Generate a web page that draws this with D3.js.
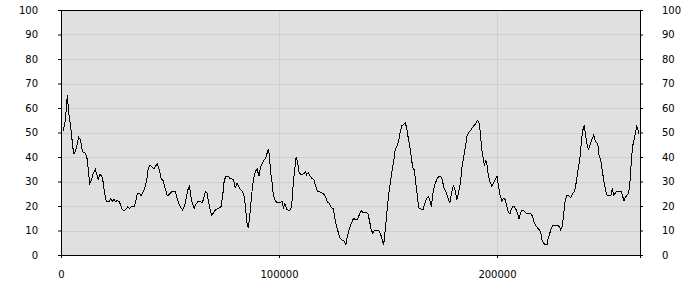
<!DOCTYPE html>
<html>
<head>
<meta charset="utf-8">
<script src="https://cdnjs.cloudflare.com/ajax/libs/d3/7.8.5/d3.min.js"></script>
<style>
  body { margin: 0; background: #fff; }
  svg { display: block; font-family: "DejaVu Sans", Verdana, sans-serif; }
</style>
</head>
<body>
<script>
// x position in thousands
var xk = [
  1.1, 2.0, 2.9, 3.5, 4.7, 5.4, 6.0, 6.7, 7.5, 8.1, 8.9, 9.6, 10.2, 11.3, 12.1, 12.7, 13.2, 13.9, 14.8, 15.7,
  16.5, 17.1, 17.9, 18.8, 19.4, 20.0, 20.8, 22.0, 22.8, 23.5, 24.3, 25.1, 25.8, 26.7, 27.4, 28.1, 29.2, 30.0, 30.7, 31.5,
  32.2, 33.5, 34.3, 35.0, 35.9, 36.8, 37.8, 38.7, 39.4, 40.0, 40.8, 41.7, 42.7, 43.4, 44.2, 45.1, 45.9, 46.9, 47.8, 48.8,
  49.7, 50.9, 52.4, 53.1, 53.8, 54.7, 55.8, 56.7, 57.7, 58.3, 58.9, 59.5, 60.2, 61.1, 61.9, 62.8, 63.8, 64.7, 65.5, 66.2,
  67.0, 67.8, 68.5, 69.1, 69.9, 70.8, 71.7, 72.6, 73.4, 74.2, 74.9, 75.8, 76.7, 77.5, 78.4, 79.2, 80.0, 80.7, 81.5, 82.2,
  83.2, 84.1, 84.7, 85.2, 85.9, 86.6, 87.2, 87.9, 88.7, 89.3, 90.0, 90.8, 91.6, 92.5, 93.4, 94.2, 95.0, 95.5, 96.2, 96.8,
  97.4, 98.2, 98.9, 99.9, 100.8, 101.4, 102.0, 102.7, 103.5, 104.3, 105.4, 106.0, 106.6, 107.2, 107.9, 108.6, 109.2, 110.0, 110.9, 111.5,
  112.1, 112.7, 113.4, 114.2, 115.1, 116.1, 116.8, 117.6, 118.5, 119.4, 120.6, 121.4, 122.2, 123.1, 124.0, 124.9, 125.5, 126.3, 127.1, 128.0,
  128.9, 129.8, 130.7, 131.3, 132.1, 132.9, 133.8, 134.3, 135.0, 135.8, 136.8, 137.7, 138.7, 139.9, 140.8, 141.6, 142.3, 143.1, 143.7, 144.6,
  145.7, 146.5, 147.2, 148.0, 148.8, 149.5, 150.3, 151.1, 151.8, 152.6, 153.3, 154.1, 154.9, 155.6, 156.4, 157.2, 157.9, 158.6, 159.2, 160.0,
  160.7, 161.3, 162.1, 162.7, 163.3, 164.1, 164.8, 166.0, 166.8, 167.7, 168.7, 169.3, 169.9, 170.5, 171.4, 172.3, 173.3, 174.2, 174.9, 175.7,
  176.6, 177.5, 178.3, 179.2, 180.0, 180.7, 181.6, 182.4, 183.2, 183.9, 184.7, 185.5, 186.2, 187.0, 187.9, 188.7, 189.4, 190.2, 191.0, 191.7,
  192.3, 193.0, 193.6, 194.2, 194.8, 195.4, 196.0, 196.8, 197.6, 198.3, 199.1, 200.0, 200.6, 201.4, 202.2, 202.9, 203.7, 204.4, 205.2, 206.0,
  206.6, 207.2, 207.9, 208.7, 209.5, 210.1, 210.7, 211.5, 212.4, 213.3, 214.3, 215.6, 216.4, 217.0, 217.7, 218.5, 219.4, 220.0, 220.6, 221.4,
  222.2, 222.9, 223.5, 224.2, 224.8, 225.7, 226.7, 227.8, 228.6, 229.2, 230.0, 230.6, 231.3, 232.0, 233.0, 233.8, 234.7, 235.6, 236.4, 237.0,
  237.6, 238.2, 238.8, 239.4, 240.0, 240.7, 241.3, 241.9, 242.7, 243.4, 244.4, 244.9, 245.5, 246.2, 246.8, 247.6, 248.3, 249.1, 249.9, 250.6,
  251.5, 252.3, 252.9, 253.5, 254.3, 255.0, 256.0, 257.0, 257.7, 258.3, 258.8, 259.6, 260.4, 261.0, 261.6, 262.2, 262.8, 263.4, 264.1, 264.7,
  265.1
];
var values = [
  50.7, 55, 65.3, 58.5, 50.3, 44, 41.2, 42.6, 45.6, 48, 47.2, 43.5, 41.8, 41.6, 38.8, 32.7, 29.3, 30.3, 33.3, 35,
  32.7, 30.9, 32.9, 32, 29.5, 25.2, 21.8, 21.8, 22.9, 21.8, 22.7, 21.8, 22.2, 21.8, 20.4, 18.4, 18.2, 18.8, 19.7, 19,
  19.6, 19.7, 21.8, 25.2, 25.2, 24.2, 25.9, 28.3, 31, 35.4, 36.7, 36, 35.1, 36.3, 37, 34.7, 31.3, 30.3, 27.2, 24.1,
  24.8, 25.9, 25.9, 23.8, 21.5, 19.7, 18.4, 20, 24.5, 26.9, 28, 24.5, 21.1, 19, 20.8, 21.8, 22, 21.1, 23.1, 25.9,
  25.2, 21.1, 18, 16.3, 17, 18.4, 18.8, 19.3, 19.7, 24.5, 30.6, 32.2, 32.2, 31.3, 31, 30.6, 27.2, 29.3, 27.9, 26.9,
  26.1, 23.8, 19, 13.6, 10.9, 16.3, 21.8, 28.6, 32.7, 34.3, 35, 32.2, 36, 37.8, 39, 40.4, 43.1, 41.5, 33.3, 29.9,
  24.5, 22.4, 21.5, 21.4, 21.5, 22, 19.3, 21.1, 18.6, 18.2, 18.4, 22.4, 29.9, 34.7, 40.1, 37.4, 33.7, 32.9, 32.9, 33.3,
  34, 32.7, 33.7, 32.4, 31.3, 30.6, 28.2, 26.1, 25.9, 25.4, 24.8, 23.8, 21.5, 21.1, 19.3, 18.8, 15.6, 12.2, 9.5, 6.8,
  6.1, 5.9, 4.1, 7.5, 10.2, 12.2, 14.3, 15, 14.3, 14.3, 16.3, 18.1, 17.3, 17.3, 17, 13.6, 10.2, 8.8, 9.9, 9.9,
  9.9, 8.8, 6.8, 4.1, 10.6, 17.7, 24.5, 29.9, 34, 38.1, 42.9, 44.5, 46.3, 50.3, 52.8, 53.3, 54.1, 51.7, 48.3, 44.2,
  40.1, 35.6, 34.7, 29.9, 25.2, 19.3, 19, 18.4, 20.7, 23.1, 23.8, 21.8, 19.7, 24.5, 28.6, 30.6, 32.2, 32.2, 30.6, 27.2,
  25.9, 23.4, 21.1, 25.4, 28.2, 26.9, 22.4, 25.9, 29.3, 35.4, 40.1, 44.2, 48.3, 50.1, 50.7, 52, 52.8, 53.5, 55, 54.1,
  50.3, 42.9, 40.1, 36.5, 38.8, 36.7, 32.7, 29.7, 28.2, 29.1, 30.6, 32.2, 28.6, 24.5, 22, 23.1, 22.7, 20.4, 17.3, 17,
  18.8, 19.7, 19.7, 18.6, 17, 14.7, 17, 18.2, 17.9, 17.1, 17, 16.7, 15.6, 13.3, 12.2, 11.2, 10.2, 9.5, 6.1, 4.8,
  4.1, 4.1, 6.8, 8.8, 10.6, 12, 12.2, 12.2, 11.6, 10.2, 11.6, 17, 22.4, 24.1, 24.1, 23.4, 25.2, 26.1, 29.9, 34,
  37, 40.8, 47.6, 51, 53.1, 48.3, 45.2, 43.1, 44.9, 46.9, 49, 46.9, 46, 45.6, 40.8, 38.8, 34.3, 29.9, 26.1, 24.1,
  24.1, 24.5, 27.2, 24.5, 25.2, 26.1, 26.1, 25.9, 23.8, 22, 23.4, 24.5, 25.2, 29.9, 38.1, 44.2, 46.9, 49.3, 52.4, 51,
  49.3
];
var xTicks = [0, 100000, 200000];
var yTicks = [0, 10, 20, 30, 40, 50, 60, 70, 80, 90, 100];
var xMax = 265600;

window.onload = function(){
    var svg = d3.select(document.body).append('svg')
        .attr('width', 700)
        .attr('height', 300);

    var m = {top: 10, right: 60, bottom: 45, left: 61};
    var w = 700 - m.left - m.right;
    var h = 300 - m.top - m.bottom;

    var x = d3.scaleLinear().domain([0, xMax]).range([0, w]);
    var y = d3.scaleLinear().domain([0, 100]).range([h, 0]);

    var g = svg.append('g').attr('transform', 'translate(' + m.left + ',' + m.top + ')');

    // 배경
    g.append('rect')
        .attr('width', w)
        .attr('height', h)
        .attr('fill', '#e0e0e0');

    // 그리드
    g.append('g').selectAll('line').data(yTicks.slice(1, -1)).enter()
        .append('line')
        .attr('x1', 0).attr('x2', w)
        .attr('y1', function(d){ return Math.round(y(d)) + 0.5; })
        .attr('y2', function(d){ return Math.round(y(d)) + 0.5; })
        .attr('stroke', '#cfcfcf');
    g.append('g').selectAll('line').data(xTicks.slice(1)).enter()
        .append('line')
        .attr('y1', 0).attr('y2', h)
        .attr('x1', function(d){ return Math.round(x(d)) + 0.5; })
        .attr('x2', function(d){ return Math.round(x(d)) + 0.5; })
        .attr('stroke', '#cfcfcf');

    // 선
    var data = xk.map(function(d, i){ return {x: d * 1000, v: values[i]}; });
    var line = d3.line()
        .x(function(d){ return x(d.x); })
        .y(function(d){ return y(d.v); });
    g.append('path')
        .datum(data)
        .attr('d', line)
        .attr('fill', 'none')
        .attr('stroke', '#000')
        .attr('stroke-width', 1)
        .attr('shape-rendering', 'crispEdges');

    // 위쪽 테두리
    g.append('line')
        .attr('x1', 0).attr('x2', w)
        .attr('y1', 0.5).attr('y2', 0.5)
        .attr('stroke', '#000');

    // 축
    var left = g.append('g')
        .call(d3.axisLeft(y).tickValues(yTicks).tickSize(3).tickPadding(20).tickFormat(d3.format('d')));
    var right = g.append('g')
        .attr('transform', 'translate(' + w + ',0)')
        .call(d3.axisRight(y).tickValues(yTicks).tickSize(3).tickPadding(19).tickFormat(d3.format('d')));
    var bottom = g.append('g')
        .attr('transform', 'translate(0,' + h + ')')
        .call(d3.axisBottom(x).tickValues(xTicks).tickSize(3).tickPadding(13).tickFormat(d3.format('d')));

    [left, right, bottom].forEach(function(a){
        a.select('.domain').attr('stroke', '#000');
        a.selectAll('.tick line').attr('stroke', '#000');
        a.selectAll('text').attr('fill', '#000').style('font-size', '10px')
            .style('font-family', '"DejaVu Sans", Verdana, sans-serif');
    });
}
</script>
</body>
</html>
